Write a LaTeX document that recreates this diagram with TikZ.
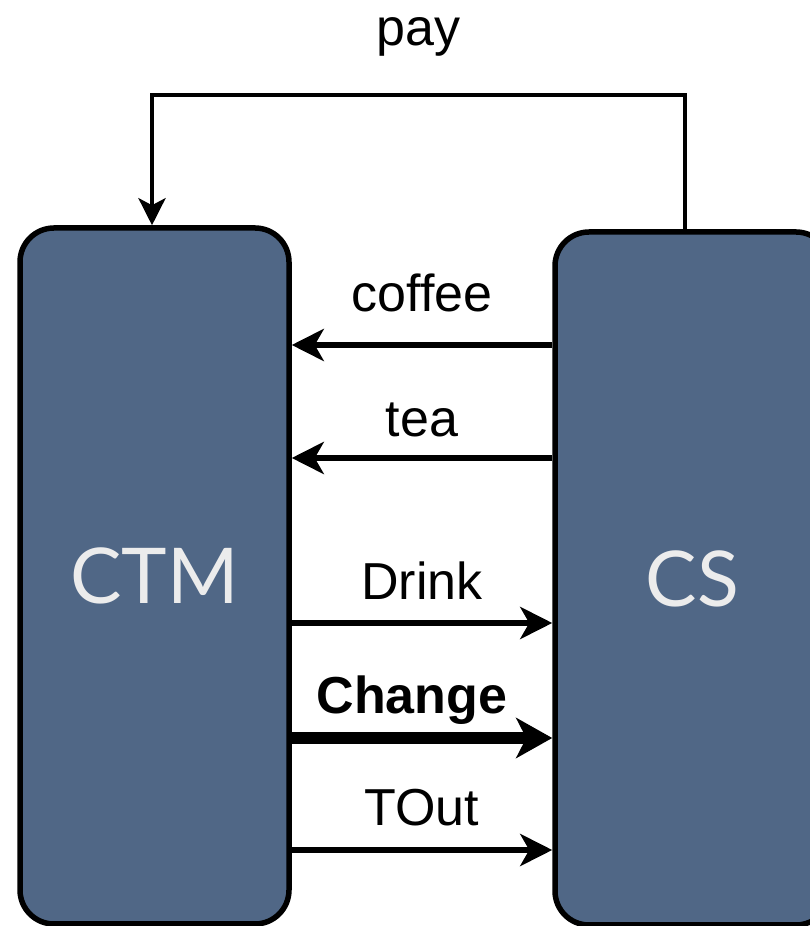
\documentclass[tikz,border=0pt]{standalone}
\usepackage{fontspec}
\setmainfont{Liberation Sans}
\newfontfamily\boxfont{Lato}
\usetikzlibrary{arrows.meta, positioning}
\definecolor{slate}{RGB}{80,103,134}
\definecolor{boxtext}{RGB}{236,236,236}

\begin{document}
\begin{tikzpicture}[x=1pt, y=1pt]
	\tikzset{msg/.style={-{Stealth[length=32pt,width=32pt,inset=9pt]}, line width=6pt},
		block/.style={draw, line width=5.5pt, fill=slate, rounded corners=34pt, inner sep=0pt, minimum width=269pt, minimum height=696pt, text=boxtext, font=\boxfont\fontsize{77}{84}\selectfont},
		lbl/.style={anchor=base, font=\fontsize{52}{60}\selectfont}}

	\useasboundingbox (0,0) rectangle (810,926);
	\clip (0,0) rectangle (810,926);

	\node[block] (ctm) at (154.5,350) {CTM};
	\node[block, minimum width=275pt, minimum height=693pt] (cs) at (692.5,347.5) {CS};

	% CS answers with a drink
	\draw[msg] (cs.west |- 0,581) -- node[lbl, yshift=33pt] {coffee} (ctm.east |- 0,581);
	\draw[msg] (cs.west |- 0,468) -- node[lbl, yshift=21pt] {tea} (ctm.east |- 0,468);

	% CTM side
	\draw[msg] (ctm.east |- 0,303) -- node[lbl, yshift=23pt] {Drink} (cs.west |- 0,303);
	\draw[msg, line width=12pt, -{Stealth[length=36pt,width=40pt,inset=10pt]}] (ctm.east |- 0,188) -- node[lbl, xshift=-10pt, yshift=24pt, font=\bfseries\fontsize{52}{60}\selectfont] {Change} (cs.west |- 0,188);
	\draw[msg] (ctm.east |- 0,76) -- node[lbl, yshift=24pt] {TOut} (cs.west |- 0,76);

	% pay goes round the top
	\draw[line width=4.5pt, -{Stealth[length=27pt,width=27pt,inset=7pt]}] (cs.north -| 685,0) |- node[lbl, pos=0.75, yshift=49pt] {pay} (152,831) -- (ctm.north -| 152,0);
\end{tikzpicture}
\end{document}
